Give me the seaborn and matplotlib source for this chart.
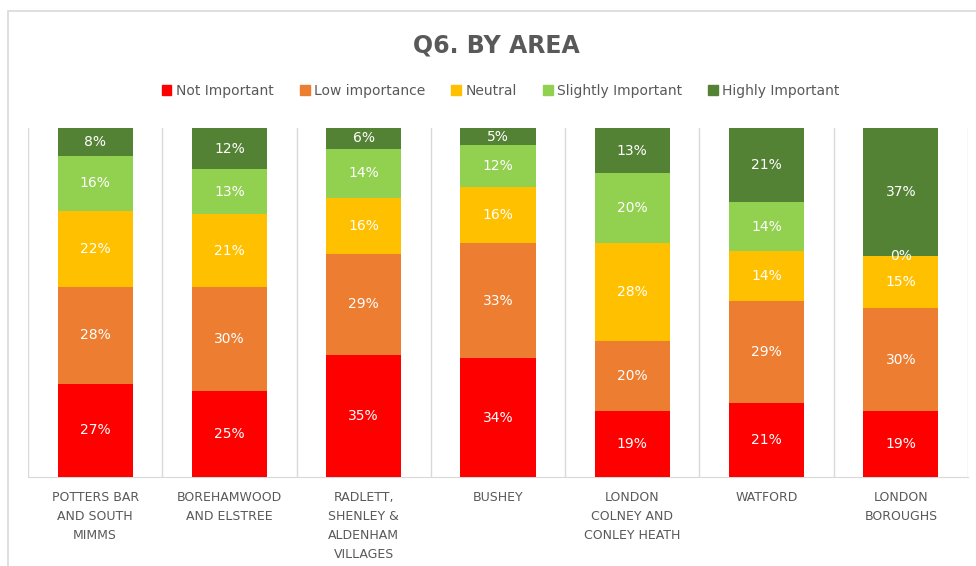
import numpy as np
import matplotlib.pyplot as plt
import seaborn as sns
import pandas as pd
from matplotlib.patches import Patch, Rectangle

sns.set_style("white")
plt.rcParams['font.family'] = ['DejaVu Sans']

# Dados
areas = ["POTTERS BAR\nAND SOUTH\nMIMMS", "BOREHAMWOOD\nAND ELSTREE",
         "RADLETT,\nSHENLEY &\nALDENHAM\nVILLAGES", "BUSHEY",
         "LONDON\nCOLNEY AND\nCONLEY HEATH", "WATFORD", "LONDON\nBOROUGHS"]
series = ["Not Important", "Low importance", "Neutral",
          "Slightly Important", "Highly Important"]
not_important = [27, 25, 35, 34, 19, 21, 19]
low_importance = [28, 30, 29, 33, 20, 29, 30]
neutral = [22, 21, 16, 16, 28, 14, 15]
slightly_important = [16, 13, 14, 12, 20, 14, 0]
highly_important = [8, 12, 6, 5, 13, 21, 37]
colors = ["#FF0000", "#ED7D31", "#FFC000", "#92D050", "#548235"]

vals = np.array([not_important, low_importance, neutral,
                 slightly_important, highly_important], dtype=float)
# 100% empilhado: normalizar cada barra
share = vals / vals.sum(axis=0) * 100
cum = share.cumsum(axis=0)

df = pd.DataFrame({'area': areas})
for i, s in enumerate(series):
    df[s] = cum[i]

fig = plt.figure(figsize=(9.76, 5.66), dpi=100)
ax = fig.add_axes([28/976, 89/566, 940/976, 349/566])

# Moldura do gráfico
fig.patches.append(Rectangle((8/976, -0.05), 1.0, 1.05 - 11/566,
                             transform=fig.transFigure, fill=False,
                             edgecolor="#d9d9d9", linewidth=1.2, zorder=0))

# Barras empilhadas (desenhadas da maior cumulativa para a menor)
for i in range(len(series) - 1, -1, -1):
    sns.barplot(ax=ax, x='area', y=series[i], data=df, color=colors[i],
                width=0.56, saturation=1, linewidth=0, zorder=3)

# Rótulos
for j in range(len(areas)):
    for i in range(len(series)):
        y = cum[i, j] - share[i, j] / 2
        ax.text(j, y, f"{int(vals[i, j])}%", ha='center', va='center',
                color='white', fontsize=10, zorder=5)

for x in np.arange(-0.5, len(areas), 1.0):
    ax.axvline(x, color="#d9d9d9", linewidth=1, zorder=1)

ax.set_xlim(-0.5, len(areas) - 0.5)
ax.set_ylim(0, 100)
ax.set_yticks([])
ax.set_xlabel('')
ax.set_ylabel('')
for s in ['top', 'left', 'right']:
    ax.spines[s].set_visible(False)
ax.spines['bottom'].set_color("#d9d9d9")
ax.tick_params(axis='x', length=0, pad=10)
for lbl in ax.get_xticklabels():
    lbl.set_color("#595959")
    lbl.set_fontsize(9)
    lbl.set_linespacing(1.6)
    lbl.set_va('top')

fig.text(0.509, 1 - 45/566, "Q6. BY AREA", ha='center', va='center',
         fontsize=17, fontweight='bold', color="#595959")

handles = [Patch(facecolor=c, edgecolor=c) for c in colors]
fig.legend(handles, series, loc='center', bbox_to_anchor=(0.513, 1 - 91/566),
           ncol=5, frameon=False, fontsize=10, handlelength=0.7,
           handleheight=0.7, handletextpad=0.3, columnspacing=1.9,
           labelcolor="#595959")

fig.savefig("out.png", dpi=100)
